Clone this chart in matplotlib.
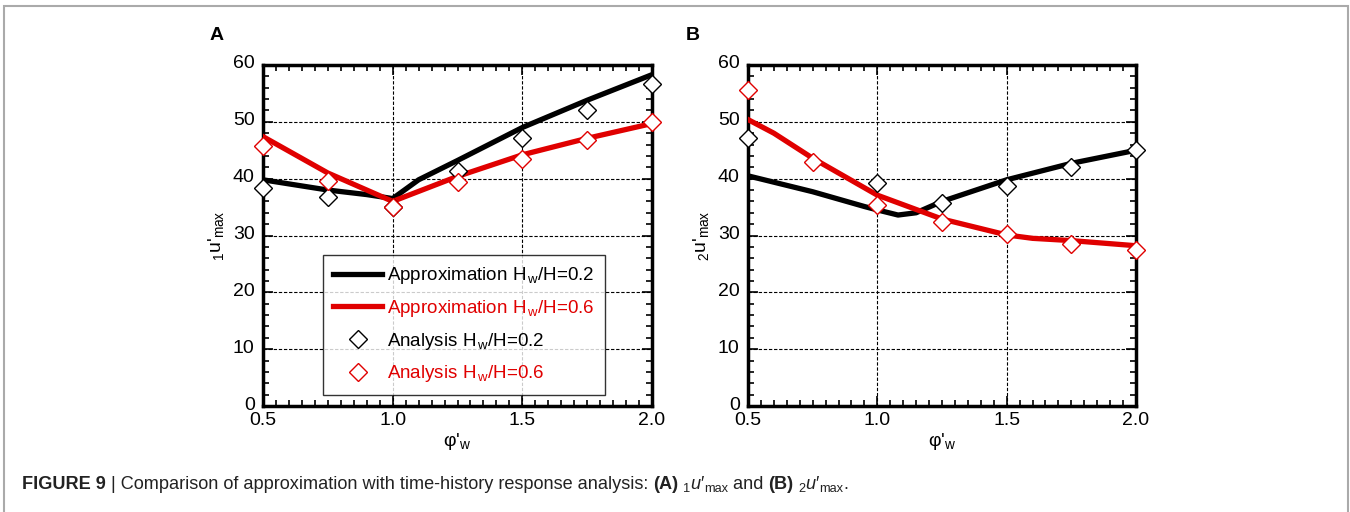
import numpy as np
import matplotlib
matplotlib.use('Agg')
import matplotlib.pyplot as plt
from matplotlib.ticker import MultipleLocator
from matplotlib.patches import Rectangle
import matplotlib.transforms as mtransforms

plt.rcParams['font.family'] = ['Liberation Sans', 'DejaVu Sans']
plt.rcParams['mathtext.fontset'] = 'custom'
plt.rcParams['mathtext.rm'] = 'Liberation Sans'
plt.rcParams['mathtext.it'] = 'Liberation Sans:italic'
plt.rcParams['mathtext.bf'] = 'Liberation Sans:bold'

RED = '#e00000'

# Panel A: 1u'max
a_line_x = [0.5, 0.75, 0.9, 1.0, 1.1, 1.25, 1.5, 1.75, 2.0]
a_approx_02 = [39.8, 38.0, 37.2, 36.5, 39.8, 43.2, 49.0, 53.8, 58.3]
a_line_x6 = [0.5, 0.75, 1.0, 1.25, 1.5, 1.75, 2.0]
a_approx_06 = [47.4, 41.0, 36.0, 40.4, 44.2, 47.1, 49.7]
a_pts_x = [0.5, 0.75, 1.0, 1.25, 1.5, 1.75, 2.0]
a_anal_02 = [38.4, 36.7, 35.1, 41.4, 47.2, 52.1, 56.7]
a_anal_06 = [45.7, 39.6, 35.1, 39.4, 43.4, 46.8, 49.9]

# Panel B: 2u'max
b_line_x = [0.5, 0.75, 0.95, 1.0, 1.08, 1.15, 1.25, 1.5, 1.75, 2.0]
b_approx_02 = [40.5, 37.7, 35.1, 34.5, 33.6, 34.0, 36.0, 39.8, 42.7, 45.0]
b_line_x6 = [0.5, 0.6, 0.75, 1.0, 1.25, 1.5, 1.6, 1.75, 2.0]
b_approx_06 = [50.4, 48.0, 43.6, 37.1, 32.9, 30.1, 29.5, 29.1, 28.2]
b_pts_x02 = [0.5, 1.0, 1.25, 1.5, 1.75, 2.0]
b_anal_02 = [47.1, 39.2, 35.8, 38.7, 42.1, 45.0]
b_pts_x06 = [0.5, 0.75, 1.0, 1.25, 1.5, 1.75, 2.0]
b_anal_06 = [55.6, 43.0, 35.4, 32.4, 30.2, 28.5, 27.4]

legend_labels = ['Approximation H$_{\\,\\mathrm{w}}$/H=0.2', 'Approximation H$_{\\,\\mathrm{w}}$/H=0.6',
                 'Analysis H$_{\\,\\mathrm{w}}$/H=0.2', 'Analysis H$_{\\,\\mathrm{w}}$/H=0.6']

W, H = 1350, 512
fig = plt.figure(figsize=(W / 100, H / 100), dpi=100)

# light gray frame round the figure
fig.patches.append(Rectangle((4 / W, -0.1), 1344 / W, 1.1 - 6 / H,
                             transform=fig.transFigure, fill=False,
                             edgecolor='#aaaaaa', linewidth=1.5))


def make_ax(left, right):
    ax = fig.add_axes([left / W, 1 - 406 / H, (right - left) / W, (406 - 65) / H])
    ax.set_xlim(0.5, 2.0)
    ax.set_ylim(0, 60)
    ax.xaxis.set_major_locator(MultipleLocator(0.5))
    ax.xaxis.set_minor_locator(MultipleLocator(0.05))
    ax.yaxis.set_major_locator(MultipleLocator(10))
    ax.yaxis.set_minor_locator(MultipleLocator(2))
    ax.xaxis.set_major_formatter(plt.FormatStrFormatter('%.1f'))
    ax.tick_params(which='both', direction='in', top=True, right=True,
                   labelsize=14, width=1.2)
    ax.tick_params(axis='x', pad=4)
    ax.tick_params(axis='y', pad=6)
    ax.tick_params(which='major', length=7)
    ax.tick_params(which='minor', length=4.5)
    for s in ax.spines.values():
        s.set_linewidth(2.5)
    ax.grid(True, which='major', color='black', linestyle=(0, (3, 1.6)), linewidth=0.8)
    ax.set_xlabel("φ'$_\\mathrm{w}$", fontsize=14, labelpad=2)
    # nudge y tick labels up a little so "0" clears "0.5"
    off = mtransforms.ScaledTranslation(0, 3 / 100, fig.dpi_scale_trans)
    for t in ax.yaxis.get_major_ticks():
        t.label1.set_transform(t.label1.get_transform() + off)
    return ax


mk = dict(marker='D', markersize=9, markerfacecolor='white', linestyle='none',
          markeredgewidth=1.0, zorder=5, clip_on=False)
lw = 3.8

axA = make_ax(263, 652)
axA.plot(a_line_x, a_approx_02, color='black', lw=lw, label=legend_labels[0], zorder=3)
axA.plot(a_line_x6, a_approx_06, color=RED, lw=lw, label=legend_labels[1], zorder=3)
axA.plot(a_pts_x, a_anal_02, markeredgecolor='black', label=legend_labels[2], **mk)
axA.plot(a_pts_x, a_anal_06, markeredgecolor=RED, label=legend_labels[3], **mk)
axA.set_ylabel("$_1$u'$_\\mathrm{max}$", fontsize=14, labelpad=5)
leg = axA.legend(loc='upper left', bbox_to_anchor=((323 - 263) / 389, (406 - 255) / 341),
                 fontsize=13.5, frameon=True, fancybox=False, edgecolor='black',
                 borderpad=0.55, handlelength=2.6, handletextpad=0.25,
                 labelspacing=0.62, borderaxespad=0)
leg.get_frame().set_linewidth(1.0)
for t, c in zip(leg.get_texts(), ['black', RED, 'black', RED]):
    t.set_color(c)

axB = make_ax(748, 1136)
axB.plot(b_line_x, b_approx_02, color='black', lw=lw, zorder=3)
axB.plot(b_line_x6, b_approx_06, color=RED, lw=lw, zorder=3)
axB.plot(b_pts_x02, b_anal_02, markeredgecolor='black', **mk)
axB.plot(b_pts_x06, b_anal_06, markeredgecolor=RED, **mk)
axB.set_ylabel("$_2$u'$_\\mathrm{max}$", fontsize=14, labelpad=5)

fig.text(210 / W, 1 - 36 / H, 'A', fontsize=14, fontweight='bold', va='center')
fig.text(686 / W, 1 - 36 / H, 'B', fontsize=14, fontweight='bold', va='center')

# caption, built piece by piece
cap_size = 13.1
cap_pieces = [('FIGURE 9', 'bold', 'normal', 1.0, 0),
              (' | Comparison of approximation with time-history response analysis: ', 'normal', 'normal', 1.0, 0),
              ('(A)', 'bold', 'normal', 1.0, 0), (' ', 'normal', 'normal', 1.0, 0),
              ('1', 'normal', 'normal', 0.7, -3), ('u\u2032', 'normal', 'italic', 1.0, 0),
              ('max', 'normal', 'normal', 0.7, -3), (' and ', 'normal', 'normal', 1.0, 0),
              ('(B)', 'bold', 'normal', 1.0, 0), (' ', 'normal', 'normal', 1.0, 0),
              ('2', 'normal', 'normal', 0.7, -3), ('u\u2032', 'normal', 'italic', 1.0, 0),
              ('max', 'normal', 'normal', 0.7, -3), ('.', 'normal', 'normal', 1.0, 0)]
renderer = fig.canvas.get_renderer()
x = 22
for txt, weight, style, scale, dy in cap_pieces:
    t = fig.text(x / W, (H - 489 + dy) / H, txt, fontsize=cap_size * scale,
                 fontweight=weight, fontstyle=style, family='Liberation Sans',
                 color='#222222', va='baseline')
    bb = t.get_window_extent(renderer)
    x = bb.x1

fig.savefig('out.png', dpi=100)
